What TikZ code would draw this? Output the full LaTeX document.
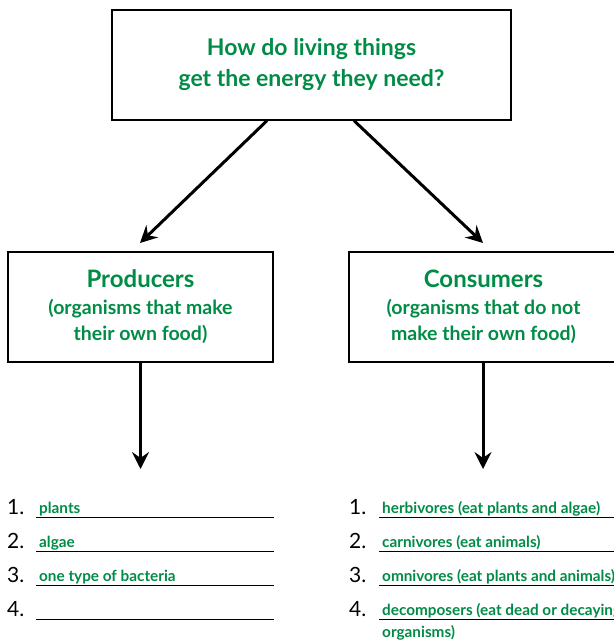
\documentclass[tikz,border=0pt]{standalone}
\usepackage{fontspec}
\setmainfont{Lato}
\usetikzlibrary{arrows.meta}
\definecolor{leafgreen}{RGB}{0,140,70}
\begin{document}
\begin{tikzpicture}[x=1pt,y=-1pt,
  box/.style={draw=black,line width=1.3pt,fill=white,inner sep=0pt,align=center,text=leafgreen},
  arr/.style={line width=3pt,-{Stealth[length=17pt,width=17pt,inset=6pt]}},
  num/.style={anchor=base west,inner sep=0pt,font=\fontsize{21}{21}\selectfont},
  ans/.style={anchor=base west,inner sep=0pt,text=leafgreen,font=\bfseries\fontsize{15.3}{22}\selectfont},
  rule/.style={line width=1pt}]
\useasboundingbox (0,0) rectangle (613,644);
\fill[white] (0,0) rectangle (613,644);
% boxes
\node[box,minimum width=399pt,minimum height=110pt,font=\bfseries\fontsize{23}{31}\selectfont] (top) at (311.5,65) {How do living things\\get the energy they need?};
\node[box,minimum width=265pt,minimum height=110pt,font=\bfseries\fontsize{19.5}{26.5}\selectfont] (prod) at (140.5,307)
  {{\fontsize{24}{24}\selectfont Producers}\\(organisms that make\\their own food)};
\node[box,minimum width=269pt,minimum height=110pt,font=\bfseries\fontsize{19.5}{26.5}\selectfont] (cons) at (483.5,307)
  {{\fontsize{24}{24}\selectfont Consumers}\\(organisms that do not\\make their own food)};
% arrow ends
\coordinate (ls) at (267,120);
\coordinate (le) at (140,243);
\coordinate (rs) at (354,120);
\coordinate (re) at (483,243);
\coordinate (pd) at (140.5,469);
\coordinate (cd) at (483,469);
\draw[arr] (top.south -| ls) -- (le);
\draw[arr] (top.south -| rs) -- (re);
\draw[arr] (prod.south -| pd) -- (pd);
\draw[arr] (cons.south -| cd) -- (cd);
% left list
\foreach \i/\y in {1/514,2/548,3/582,4/616}{
  \node[num] (pn\i) at (7,\y) {\i.};
  \draw[rule] (36,\y+3) -- (274,\y+3);
}
\node[ans] (pa1) at (39,513) {plants};
\node[ans] (pa2) at (39,547) {algae};
\node[ans] (pa3) at (39,581) {one type of bacteria};
% right list
\foreach \i/\y in {1/514,2/548,3/582,4/616}{
  \node[num] (cn\i) at (349,\y) {\i.};
  \draw[rule] (379,\y+3) -- (620,\y+3);
}
\node[ans] (ca1) at (382,513) {herbivores (eat plants and algae)};
\node[ans] (ca2) at (382,547) {carnivores (eat animals)};
\node[ans] (ca3) at (382,581) {omnivores (eat plants and animals)};
\node[ans] (ca4) at (382,615) {decomposers (eat dead or decaying};
\node[ans] (ca5) at (382,637) {organisms)};
\end{tikzpicture}
\end{document}
